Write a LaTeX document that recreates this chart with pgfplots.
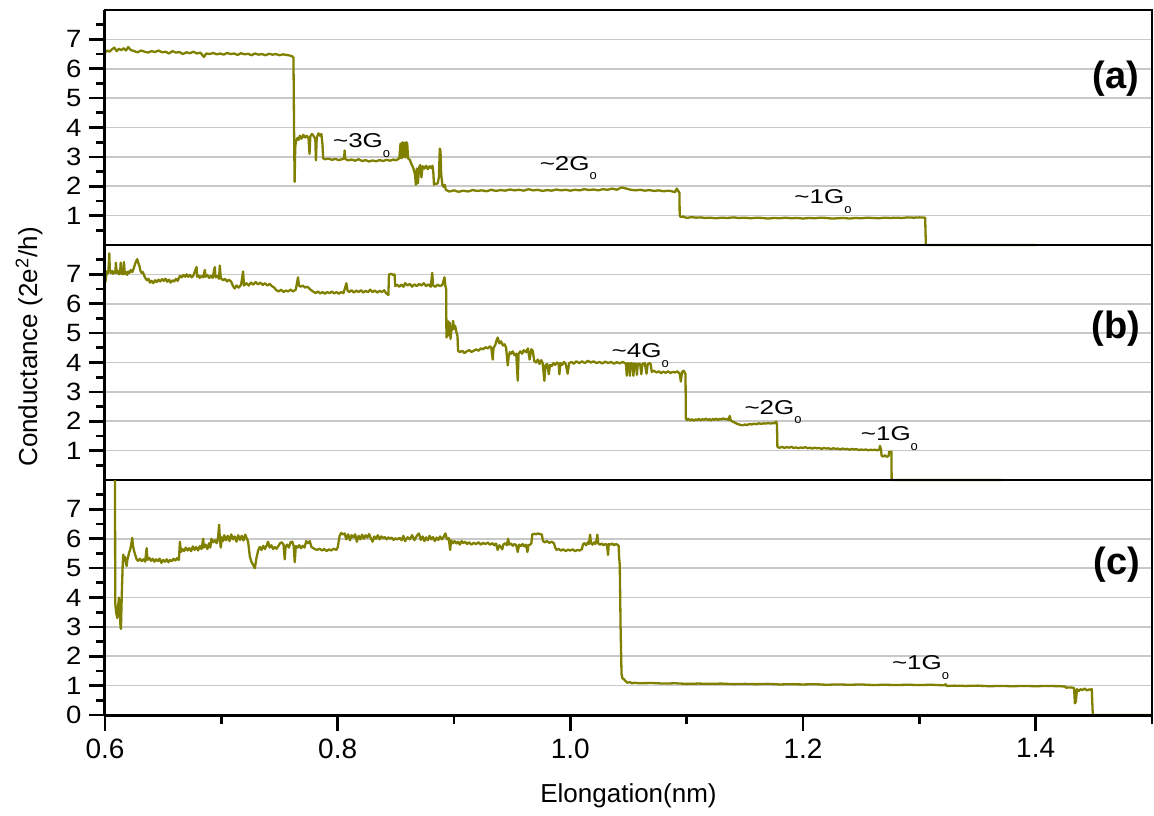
\documentclass[border=0pt]{standalone}
\usepackage{graphicx}
\usepackage{pgfplots}
\usepackage{pgfplotstable}
\pgfplotsset{compat=1.18}
\usepackage{fontspec}
\setmainfont{Liberation Sans}

\definecolor{trace}{RGB}{128,128,0}
\definecolor{gridgray}{RGB}{200,200,200}

% conductance traces G(x), x in nm, G in units of 2e^2/h
\pgfplotstableread{
x y
0.6000 6.55
0.6020 6.62
0.6040 6.58
0.6060 6.66
0.6080 6.72
0.6100 6.60
0.6120 6.68
0.6140 6.63
0.6160 6.70
0.6180 6.62
0.6200 6.74
0.6220 6.64
0.6250 6.60
0.6280 6.56
0.6310 6.62
0.6340 6.58
0.6370 6.55
0.6400 6.60
0.6430 6.57
0.6460 6.62
0.6490 6.56
0.6520 6.58
0.6550 6.52
0.6580 6.60
0.6610 6.55
0.6640 6.57
0.6670 6.50
0.6700 6.56
0.6730 6.53
0.6760 6.58
0.6790 6.52
0.6820 6.55
0.6850 6.40
0.6870 6.52
0.6900 6.50
0.6930 6.54
0.6960 6.49
0.6990 6.52
0.7020 6.48
0.7050 6.54
0.7080 6.50
0.7110 6.52
0.7140 6.47
0.7170 6.53
0.7200 6.49
0.7230 6.51
0.7260 6.46
0.7290 6.52
0.7320 6.48
0.7350 6.50
0.7380 6.46
0.7410 6.51
0.7440 6.48
0.7470 6.50
0.7500 6.46
0.7530 6.49
0.7560 6.47
0.7590 6.45
0.7610 6.42
0.7620 6.38
0.7625 4.00
0.7630 2.15
0.7635 3.30
0.7640 3.50
0.7655 3.65
0.7665 3.58
0.7675 3.72
0.7690 3.62
0.7705 3.75
0.7720 3.66
0.7735 3.72
0.7750 3.62
0.7758 3.10
0.7765 3.70
0.7780 3.78
0.7795 3.70
0.7808 3.60
0.7813 2.88
0.7820 3.65
0.7835 3.80
0.7850 3.72
0.7860 3.78
0.7870 3.40
0.7875 2.95
0.7890 2.92
0.7920 2.94
0.7950 2.90
0.7980 2.93
0.8010 2.89
0.8040 2.92
0.8055 2.95
0.8060 3.22
0.8065 2.93
0.8090 2.88
0.8120 2.91
0.8150 2.87
0.8180 2.92
0.8210 2.86
0.8240 2.89
0.8270 2.84
0.8300 2.88
0.8330 2.85
0.8360 2.89
0.8390 2.86
0.8420 2.90
0.8450 2.87
0.8480 2.91
0.8500 2.88
0.8530 2.95
0.8540 3.45
0.8550 2.95
0.8558 3.50
0.8566 3.00
0.8574 3.48
0.8582 2.98
0.8590 3.50
0.8598 3.45
0.8605 2.95
0.8620 2.90
0.8635 2.75
0.8650 2.62
0.8665 2.40
0.8672 2.05
0.8680 2.60
0.8690 2.10
0.8700 2.65
0.8710 2.72
0.8720 2.30
0.8730 2.68
0.8745 2.60
0.8760 2.70
0.8775 2.58
0.8790 2.68
0.8805 2.62
0.8815 2.70
0.8822 2.50
0.8828 2.05
0.8835 2.10
0.8845 2.08
0.8860 2.10
0.8870 2.30
0.8878 3.28
0.8884 3.20
0.8890 2.40
0.8900 2.05
0.8910 1.98
0.8920 2.05
0.8930 1.88
0.8945 1.85
0.8960 1.82
0.9000 1.86
0.9040 1.81
0.9080 1.85
0.9120 1.82
0.9160 1.87
0.9200 1.84
0.9240 1.86
0.9280 1.83
0.9320 1.88
0.9360 1.84
0.9400 1.87
0.9440 1.85
0.9480 1.89
0.9520 1.86
0.9560 1.88
0.9600 1.85
0.9640 1.90
0.9680 1.86
0.9720 1.88
0.9760 1.84
0.9800 1.87
0.9840 1.85
0.9880 1.89
0.9920 1.86
0.9960 1.88
1.0000 1.85
1.0040 1.88
1.0080 1.86
1.0120 1.90
1.0160 1.87
1.0200 1.89
1.0240 1.86
1.0280 1.90
1.0320 1.88
1.0360 1.92
1.0400 1.88
1.0440 1.96
1.0480 1.92
1.0520 1.88
1.0560 1.86
1.0600 1.88
1.0640 1.85
1.0680 1.87
1.0720 1.84
1.0760 1.86
1.0800 1.83
1.0850 1.85
1.0900 1.80
1.0915 1.92
1.0930 1.82
1.0938 1.78
1.0940 1.00
1.0950 0.95
1.0970 0.97
1.1000 0.92
1.1040 0.95
1.1080 0.93
1.1120 0.94
1.1160 0.92
1.1200 0.93
1.1250 0.91
1.1300 0.93
1.1350 0.92
1.1400 0.94
1.1450 0.92
1.1500 0.93
1.1550 0.91
1.1600 0.93
1.1650 0.92
1.1700 0.90
1.1750 0.92
1.1800 0.91
1.1850 0.93
1.1900 0.91
1.1950 0.92
1.2000 0.90
1.2050 0.92
1.2100 0.91
1.2150 0.93
1.2200 0.92
1.2250 0.90
1.2300 0.91
1.2350 0.92
1.2400 0.90
1.2450 0.92
1.2500 0.91
1.2550 0.93
1.2600 0.92
1.2650 0.91
1.2700 0.93
1.2750 0.92
1.2800 0.93
1.2850 0.92
1.2900 0.94
1.2950 0.93
1.3000 0.94
1.3050 0.93
1.3056 0.00
1.4000 0.00
}\traceA

\pgfplotstableread{
x y
0.6000 6.70
0.6008 6.85
0.6014 7.10
0.6022 7.02
0.6030 7.15
0.6037 7.72
0.6042 7.10
0.6049 7.05
0.6060 7.12
0.6070 7.02
0.6080 7.10
0.6088 7.05
0.6094 7.40
0.6100 7.05
0.6110 7.12
0.6120 7.00
0.6130 7.08
0.6135 7.40
0.6142 7.02
0.6150 7.10
0.6157 7.00
0.6163 7.42
0.6170 7.02
0.6180 7.08
0.6190 6.98
0.6200 7.10
0.6210 7.05
0.6222 7.15
0.6235 7.08
0.6245 7.18
0.6258 7.35
0.6268 7.45
0.6277 7.52
0.6285 7.40
0.6295 7.30
0.6305 7.12
0.6315 7.05
0.6325 7.08
0.6343 6.90
0.6360 6.80
0.6375 6.85
0.6386 6.72
0.6400 6.78
0.6415 6.70
0.6430 6.80
0.6445 6.74
0.6460 6.82
0.6475 6.76
0.6490 6.84
0.6505 6.78
0.6520 6.85
0.6535 6.75
0.6550 6.82
0.6565 6.72
0.6580 6.80
0.6595 6.76
0.6610 6.85
0.6625 6.78
0.6644 6.95
0.6660 6.90
0.6675 6.98
0.6690 6.92
0.6701 7.00
0.6715 6.92
0.6730 6.98
0.6745 6.90
0.6758 6.95
0.6787 7.25
0.6792 6.92
0.6805 6.96
0.6815 6.88
0.6830 6.95
0.6845 6.90
0.6858 7.15
0.6865 6.92
0.6880 6.98
0.6895 6.88
0.6910 6.95
0.6925 6.88
0.6944 7.25
0.6950 6.90
0.6965 6.95
0.6980 6.85
0.6987 7.30
0.6995 6.88
0.7015 6.80
0.7030 6.85
0.7050 6.76
0.7065 6.82
0.7085 6.75
0.7101 6.60
0.7115 6.52
0.7130 6.62
0.7150 6.55
0.7170 6.65
0.7187 7.10
0.7195 6.62
0.7216 6.70
0.7235 6.62
0.7255 6.72
0.7275 6.65
0.7295 6.74
0.7315 6.66
0.7335 6.72
0.7355 6.64
0.7375 6.70
0.7395 6.62
0.7415 6.68
0.7435 6.60
0.7455 6.55
0.7473 6.46
0.7495 6.42
0.7515 6.48
0.7535 6.40
0.7555 6.45
0.7575 6.42
0.7595 6.48
0.7616 6.42
0.7640 6.48
0.7659 6.90
0.7668 6.62
0.7680 6.58
0.7700 6.62
0.7720 6.55
0.7740 6.58
0.7760 6.50
0.7788 6.42
0.7810 6.36
0.7830 6.42
0.7850 6.35
0.7870 6.40
0.7890 6.34
0.7910 6.40
0.7930 6.36
0.7950 6.42
0.7970 6.35
0.7990 6.40
0.8010 6.34
0.8030 6.40
0.8050 6.36
0.8075 6.70
0.8085 6.45
0.8100 6.40
0.8120 6.46
0.8140 6.38
0.8160 6.45
0.8180 6.40
0.8200 6.46
0.8220 6.38
0.8240 6.44
0.8260 6.40
0.8280 6.48
0.8300 6.40
0.8320 6.45
0.8340 6.38
0.8360 6.44
0.8380 6.40
0.8400 6.46
0.8418 6.35
0.8436 6.30
0.8441 7.00
0.8460 7.02
0.8475 6.98
0.8489 7.00
0.8495 6.60
0.8510 6.65
0.8530 6.58
0.8547 6.65
0.8565 6.58
0.8580 6.70
0.8600 6.62
0.8620 6.68
0.8640 6.58
0.8660 6.66
0.8680 6.60
0.8700 6.68
0.8720 6.62
0.8740 6.70
0.8760 6.60
0.8780 6.66
0.8800 6.58
0.8813 7.05
0.8820 6.62
0.8840 6.58
0.8860 6.65
0.8880 6.60
0.8900 6.64
0.8918 6.90
0.8925 6.62
0.8933 6.50
0.8935 4.85
0.8940 5.30
0.8946 4.90
0.8952 5.40
0.8958 5.05
0.8964 5.35
0.8970 4.80
0.8978 5.20
0.8985 5.10
0.8992 5.42
0.9000 5.15
0.9010 5.25
0.9020 5.05
0.9030 4.90
0.9035 4.40
0.9050 4.35
0.9070 4.40
0.9090 4.32
0.9110 4.38
0.9130 4.42
0.9150 4.36
0.9170 4.40
0.9190 4.45
0.9210 4.40
0.9230 4.48
0.9250 4.45
0.9270 4.52
0.9290 4.48
0.9310 4.55
0.9320 4.50
0.9333 4.10
0.9340 4.50
0.9355 4.60
0.9368 4.78
0.9376 4.85
0.9390 4.65
0.9405 4.72
0.9420 4.58
0.9435 4.62
0.9448 4.50
0.9462 3.90
0.9470 4.20
0.9480 4.35
0.9491 4.30
0.9505 4.38
0.9520 4.25
0.9535 4.30
0.9548 3.38
0.9555 4.30
0.9570 4.38
0.9585 4.30
0.9600 4.42
0.9620 4.35
0.9635 4.48
0.9650 4.10
0.9665 4.45
0.9677 4.40
0.9690 4.05
0.9705 4.00
0.9720 4.10
0.9735 3.95
0.9750 4.08
0.9762 3.98
0.9777 3.38
0.9785 3.90
0.9800 3.95
0.9815 3.60
0.9825 3.92
0.9840 3.88
0.9855 3.98
0.9870 3.92
0.9885 4.00
0.9900 3.95
0.9906 3.60
0.9915 3.98
0.9930 3.92
0.9945 4.02
0.9960 3.95
0.9977 3.62
0.9990 3.98
1.0010 4.02
1.0030 3.96
1.0050 4.04
1.0077 3.98
1.0100 4.04
1.0125 3.98
1.0150 4.06
1.0175 4.00
1.0200 4.04
1.0225 3.98
1.0250 4.02
1.0275 3.97
1.0300 4.03
1.0325 3.98
1.0350 4.02
1.0375 3.96
1.0400 4.01
1.0425 3.97
1.0450 4.02
1.0478 3.96
1.0485 3.55
1.0492 3.98
1.0505 3.95
1.0512 3.55
1.0520 3.98
1.0535 3.96
1.0542 3.55
1.0550 3.97
1.0565 3.94
1.0572 3.58
1.0580 3.96
1.0600 3.95
1.0610 3.60
1.0620 3.95
1.0640 3.98
1.0655 3.62
1.0665 3.94
1.0680 3.98
1.0690 3.95
1.0700 3.68
1.0720 3.72
1.0740 3.66
1.0760 3.70
1.0780 3.64
1.0800 3.69
1.0820 3.65
1.0840 3.70
1.0860 3.64
1.0880 3.68
1.0900 3.66
1.0920 3.70
1.0940 3.62
1.0950 3.35
1.0960 3.68
1.0975 3.72
1.0990 3.60
1.0993 2.10
1.1000 2.04
1.1015 2.08
1.1030 2.03
1.1045 2.07
1.1060 2.02
1.1075 2.06
1.1090 2.04
1.1105 2.08
1.1120 2.03
1.1135 2.07
1.1150 2.05
1.1165 2.09
1.1180 2.04
1.1195 2.07
1.1210 2.03
1.1225 2.08
1.1240 2.05
1.1255 2.09
1.1270 2.04
1.1285 2.08
1.1300 2.06
1.1315 2.10
1.1330 2.06
1.1345 2.08
1.1360 2.04
1.1370 2.18
1.1380 2.02
1.1400 1.98
1.1420 1.94
1.1440 1.90
1.1460 1.88
1.1480 1.86
1.1500 1.89
1.1520 1.87
1.1540 1.91
1.1560 1.89
1.1580 1.92
1.1600 1.90
1.1620 1.93
1.1640 1.91
1.1660 1.93
1.1680 1.92
1.1700 1.94
1.1720 1.92
1.1740 1.94
1.1760 1.93
1.1768 1.99
1.1776 1.92
1.1780 1.12
1.1800 1.10
1.1820 1.13
1.1840 1.09
1.1860 1.12
1.1880 1.10
1.1900 1.13
1.1920 1.09
1.1940 1.11
1.1960 1.08
1.1980 1.11
1.2000 1.09
1.2020 1.12
1.2040 1.08
1.2060 1.10
1.2080 1.07
1.2100 1.10
1.2120 1.08
1.2140 1.09
1.2160 1.06
1.2180 1.09
1.2200 1.07
1.2220 1.08
1.2240 1.05
1.2260 1.08
1.2280 1.06
1.2300 1.07
1.2320 1.04
1.2340 1.07
1.2360 1.05
1.2380 1.06
1.2400 1.03
1.2420 1.06
1.2440 1.04
1.2460 1.05
1.2480 1.02
1.2500 1.04
1.2520 1.02
1.2540 1.04
1.2560 1.01
1.2580 1.03
1.2600 1.02
1.2620 1.03
1.2640 1.01
1.2655 1.03
1.2662 1.16
1.2670 1.05
1.2676 0.82
1.2690 0.80
1.2705 0.84
1.2720 0.79
1.2736 0.82
1.2740 0.96
1.2750 0.94
1.2760 0.97
1.2762 0.00
1.3710 0.00
}\traceB

\pgfplotstableread{
x y
0.6086 8.00
0.6088 3.82
0.6094 3.55
0.6100 3.40
0.6106 3.30
0.6113 3.70
0.6120 4.00
0.6128 3.60
0.6133 3.00
0.6137 2.93
0.6145 4.20
0.6152 5.10
0.6157 5.46
0.6165 5.30
0.6172 5.38
0.6180 5.15
0.6186 5.07
0.6193 5.30
0.6200 5.40
0.6208 5.55
0.6215 5.60
0.6225 5.80
0.6234 6.03
0.6241 5.75
0.6249 5.60
0.6260 5.45
0.6272 5.30
0.6285 5.25
0.6300 5.32
0.6315 5.24
0.6330 5.30
0.6345 5.22
0.6358 5.68
0.6365 5.28
0.6380 5.35
0.6395 5.25
0.6410 5.32
0.6425 5.22
0.6440 5.30
0.6455 5.24
0.6470 5.32
0.6485 5.18
0.6500 5.28
0.6515 5.22
0.6530 5.30
0.6545 5.20
0.6560 5.28
0.6575 5.24
0.6590 5.32
0.6605 5.26
0.6620 5.34
0.6635 5.28
0.6644 5.90
0.6652 5.55
0.6665 5.65
0.6680 5.58
0.6695 5.70
0.6710 5.60
0.6725 5.68
0.6740 5.58
0.6755 5.74
0.6770 5.62
0.6785 5.72
0.6800 5.60
0.6815 5.75
0.6830 5.65
0.6844 6.00
0.6850 5.70
0.6865 5.80
0.6880 5.65
0.6895 5.85
0.6905 5.70
0.6915 6.00
0.6930 5.88
0.6945 5.95
0.6960 5.85
0.6972 6.05
0.6981 6.48
0.6988 5.95
0.6995 5.70
0.7005 6.05
0.7015 5.92
0.7025 6.12
0.7040 5.95
0.7055 6.10
0.7070 5.92
0.7085 6.15
0.7100 5.98
0.7115 6.08
0.7130 5.90
0.7145 6.12
0.7160 5.96
0.7175 6.10
0.7190 5.94
0.7205 6.14
0.7220 6.00
0.7230 5.90
0.7245 5.40
0.7260 5.20
0.7275 5.10
0.7288 5.00
0.7300 5.30
0.7316 5.60
0.7330 5.72
0.7345 5.62
0.7360 5.76
0.7375 5.65
0.7390 5.78
0.7402 5.90
0.7415 5.70
0.7430 5.78
0.7445 5.65
0.7460 5.72
0.7475 5.66
0.7490 5.75
0.7505 5.85
0.7520 5.88
0.7535 5.80
0.7545 5.30
0.7552 5.72
0.7565 5.80
0.7580 5.70
0.7595 5.88
0.7610 5.90
0.7622 5.75
0.7631 5.20
0.7640 5.75
0.7655 5.70
0.7670 5.78
0.7685 5.68
0.7700 5.76
0.7715 5.70
0.7730 5.92
0.7745 5.85
0.7760 5.92
0.7775 5.72
0.7790 5.68
0.7805 5.65
0.7820 5.62
0.7845 5.66
0.7865 5.60
0.7885 5.65
0.7905 5.58
0.7925 5.64
0.7945 5.60
0.7965 5.66
0.7989 5.62
0.8000 5.70
0.8017 6.10
0.8030 6.20
0.8045 6.15
0.8060 6.18
0.8075 5.98
0.8090 6.15
0.8105 5.95
0.8120 6.12
0.8135 6.05
0.8150 6.15
0.8165 5.90
0.8180 6.10
0.8195 5.98
0.8210 6.14
0.8225 6.00
0.8240 6.12
0.8255 6.04
0.8270 6.16
0.8285 6.02
0.8300 5.90
0.8315 6.08
0.8330 6.00
0.8345 6.12
0.8360 5.98
0.8375 6.08
0.8390 6.02
0.8405 6.06
0.8420 5.98
0.8435 6.05
0.8450 6.00
0.8465 6.04
0.8480 5.96
0.8495 6.02
0.8510 5.98
0.8532 6.03
0.8550 5.95
0.8565 6.10
0.8580 5.92
0.8600 6.05
0.8620 5.98
0.8640 6.12
0.8660 5.95
0.8680 6.10
0.8698 6.18
0.8715 5.96
0.8730 6.08
0.8745 5.92
0.8760 6.05
0.8775 5.95
0.8790 6.10
0.8805 5.98
0.8820 6.06
0.8835 5.92
0.8850 6.04
0.8865 5.96
0.8880 6.08
0.8895 5.98
0.8910 6.06
0.8926 6.18
0.8940 5.98
0.8955 6.02
0.8967 5.62
0.8975 5.95
0.8990 5.85
0.9005 5.92
0.9020 5.84
0.9035 5.90
0.9050 5.80
0.9065 5.92
0.9080 5.85
0.9095 5.90
0.9112 5.82
0.9130 5.88
0.9150 5.80
0.9170 5.86
0.9190 5.82
0.9210 5.88
0.9230 5.80
0.9250 5.86
0.9270 5.82
0.9290 5.87
0.9310 5.80
0.9330 5.85
0.9345 5.78
0.9361 5.84
0.9375 5.62
0.9390 5.78
0.9405 5.70
0.9415 5.64
0.9424 5.80
0.9440 5.85
0.9455 5.78
0.9465 6.00
0.9475 5.80
0.9490 5.84
0.9505 5.76
0.9520 5.82
0.9535 5.78
0.9548 5.55
0.9560 5.80
0.9575 5.75
0.9590 5.82
0.9605 5.74
0.9620 5.80
0.9631 5.55
0.9640 5.78
0.9655 5.80
0.9665 5.85
0.9673 6.15
0.9690 6.17
0.9705 6.15
0.9720 6.18
0.9740 6.16
0.9755 6.14
0.9765 5.92
0.9780 5.88
0.9800 5.92
0.9820 5.86
0.9840 5.90
0.9859 5.85
0.9870 5.70
0.9880 5.62
0.9900 5.65
0.9920 5.60
0.9940 5.64
0.9960 5.58
0.9980 5.63
1.0000 5.60
1.0020 5.64
1.0040 5.58
1.0060 5.62
1.0080 5.60
1.0100 5.65
1.0108 5.80
1.0120 5.85
1.0135 5.78
1.0150 5.88
1.0160 5.82
1.0170 6.14
1.0178 5.86
1.0190 5.80
1.0205 5.88
1.0215 5.82
1.0225 5.95
1.0232 6.14
1.0240 5.84
1.0255 5.80
1.0270 5.84
1.0285 5.78
1.0300 5.82
1.0315 5.80
1.0324 5.45
1.0330 5.82
1.0345 5.80
1.0360 5.84
1.0375 5.78
1.0390 5.82
1.0405 5.80
1.0415 5.76
1.0419 5.40
1.0425 5.10
1.0432 3.00
1.0440 1.40
1.0448 1.25
1.0460 1.22
1.0475 1.15
1.0490 1.10
1.0510 1.12
1.0530 1.08
1.0550 1.10
1.0564 1.09
1.0600 1.08
1.0700 1.09
1.0800 1.07
1.0900 1.08
1.1000 1.06
1.1100 1.07
1.1200 1.06
1.1300 1.07
1.1400 1.05
1.1500 1.06
1.1600 1.05
1.1700 1.06
1.1800 1.04
1.1900 1.05
1.2000 1.04
1.2100 1.05
1.2200 1.03
1.2300 1.04
1.2400 1.03
1.2500 1.04
1.2600 1.02
1.2700 1.03
1.2800 1.02
1.2900 1.03
1.3000 1.02
1.3100 1.03
1.3218 1.01
1.3225 1.05
1.3235 0.99
1.3300 1.00
1.3400 0.99
1.3500 1.00
1.3600 0.98
1.3700 0.99
1.3800 0.98
1.3900 0.99
1.4000 0.98
1.4100 0.99
1.4200 0.98
1.4255 0.97
1.4260 0.93
1.4300 0.94
1.4330 0.92
1.4337 0.40
1.4345 0.45
1.4355 0.88
1.4371 0.82
1.4385 0.88
1.4400 0.85
1.4420 0.90
1.4440 0.84
1.4460 0.87
1.4475 0.86
1.4482 0.89
1.4491 0.00
1.5000 0.00
}\traceC

% slightly widened digits on the conductance axis and in the plateau labels
\newcommand\wide[1]{\scalebox{1.1}[1]{#1}}
\newcommand\lev[1]{\scalebox{1.3}[1]{\textasciitilde#1G}\raisebox{-4.8pt}{\fontsize{6.5}{7}\selectfont o}}

\tikzset{
  trace line/.style={color=trace, line width=1.15pt, line join=round},
  lbl/.style={anchor=base west, inner sep=0pt, font=\fontsize{10}{12}\selectfont},
  tag/.style={anchor=east, inner sep=0pt, font=\fontsize{19}{21}\selectfont\bfseries},
}

\pgfplotsset{
  panel/.style={
    scale only axis, width=523.5pt, height=117.5pt,
    xmin=0.6, xmax=1.5, ymin=0, ymax=8,
    clip=false,
    axis line style={line width=0.6pt, black},
    tick align=outside,
    ytick pos=left, xtick pos=bottom,
    major tick length=8.2pt, minor tick length=4.5pt,
    every tick/.style={black, line width=1.35pt},
    ymajorgrids,
    grid style={gridgray, line width=0.8pt},
    minor ytick={0.5,1.5,...,7.5},
    yticklabel style={font=\fontsize{12.5}{14}\selectfont},
    xtick=\empty,
  },
}

\begin{document}
\begin{tikzpicture}
\useasboundingbox (-52.5pt,-50pt) rectangle (524.5pt,357.5pt);

% (a)
\begin{axis}[panel, at={(0pt,235pt)},
  ytick={1,...,7},
  yticklabels={\wide{1},\wide{2},\wide{3},\wide{4},\wide{5},\wide{6},\wide{7}}]
\addplot[trace line, no marks] table {\traceA};
\draw[line width=1.5pt] (rel axis cs:0,0) -- (rel axis cs:0,1);
\node[lbl] at (axis cs:0.7957,3.32) {\lev{3}};
\node[lbl] at (axis cs:0.9734,2.54) {\lev{2}};
\node[lbl] at (axis cs:1.1923,1.41) {\lev{1}};
\node[tag] at (axis cs:1.489,5.65) {(a)};
\end{axis}

% (b)
\begin{axis}[panel, at={(0pt,117.5pt)},
  ytick={1,...,7},
  yticklabels={\wide{1},\wide{2},\wide{3},\wide{4},\wide{5},\wide{6},\wide{7}}]
\addplot[trace line, no marks] table {\traceB};
\draw[line width=1.5pt] (rel axis cs:0,0) -- (rel axis cs:0,1);
\node[lbl] at (axis cs:1.0352,4.17) {\lev{4}};
\node[lbl] at (axis cs:1.1494,2.24) {\lev{2}};
\node[lbl] at (axis cs:1.2494,1.34) {\lev{1}};
\node[tag] at (axis cs:1.490,5.14) {(b)};
\end{axis}

% (c)
\begin{axis}[panel, at={(0pt,0pt)},
  ytick={0,...,7},
  yticklabels={\wide{0},\wide{1},\wide{2},\wide{3},\wide{4},\wide{5},\wide{6},\wide{7}},
  xtick={0.6,0.8,1.0,1.2,1.4},
  xticklabels={0.6,0.8,1.0,1.2,1.4},
  minor xtick={0.7,0.9,1.1,1.3,1.5},
  xticklabel style={font=\fontsize{14}{16}\selectfont},
  xlabel={Elongation(nm)},
  xlabel style={font=\fontsize{13}{15}\selectfont, at={(axis description cs:0.5,0)}, anchor=base, yshift=-43.5pt}]
\addplot[trace line, no marks] table {\traceC};
\draw[line width=1.5pt] (rel axis cs:0,0) -- (rel axis cs:0,1);
\draw[line width=1.5pt] (rel axis cs:0,0) -- (rel axis cs:1,0);
\node[lbl] at (axis cs:1.2762,1.54) {\lev{1}};
\node[tag] at (axis cs:1.490,5.12) {(c)};
\end{axis}

\node[rotate=90, font=\fontsize{13}{15}\selectfont] at (-38pt,184pt) {Conductance (2e\textsuperscript{2}/h)};
\end{tikzpicture}
\end{document}
